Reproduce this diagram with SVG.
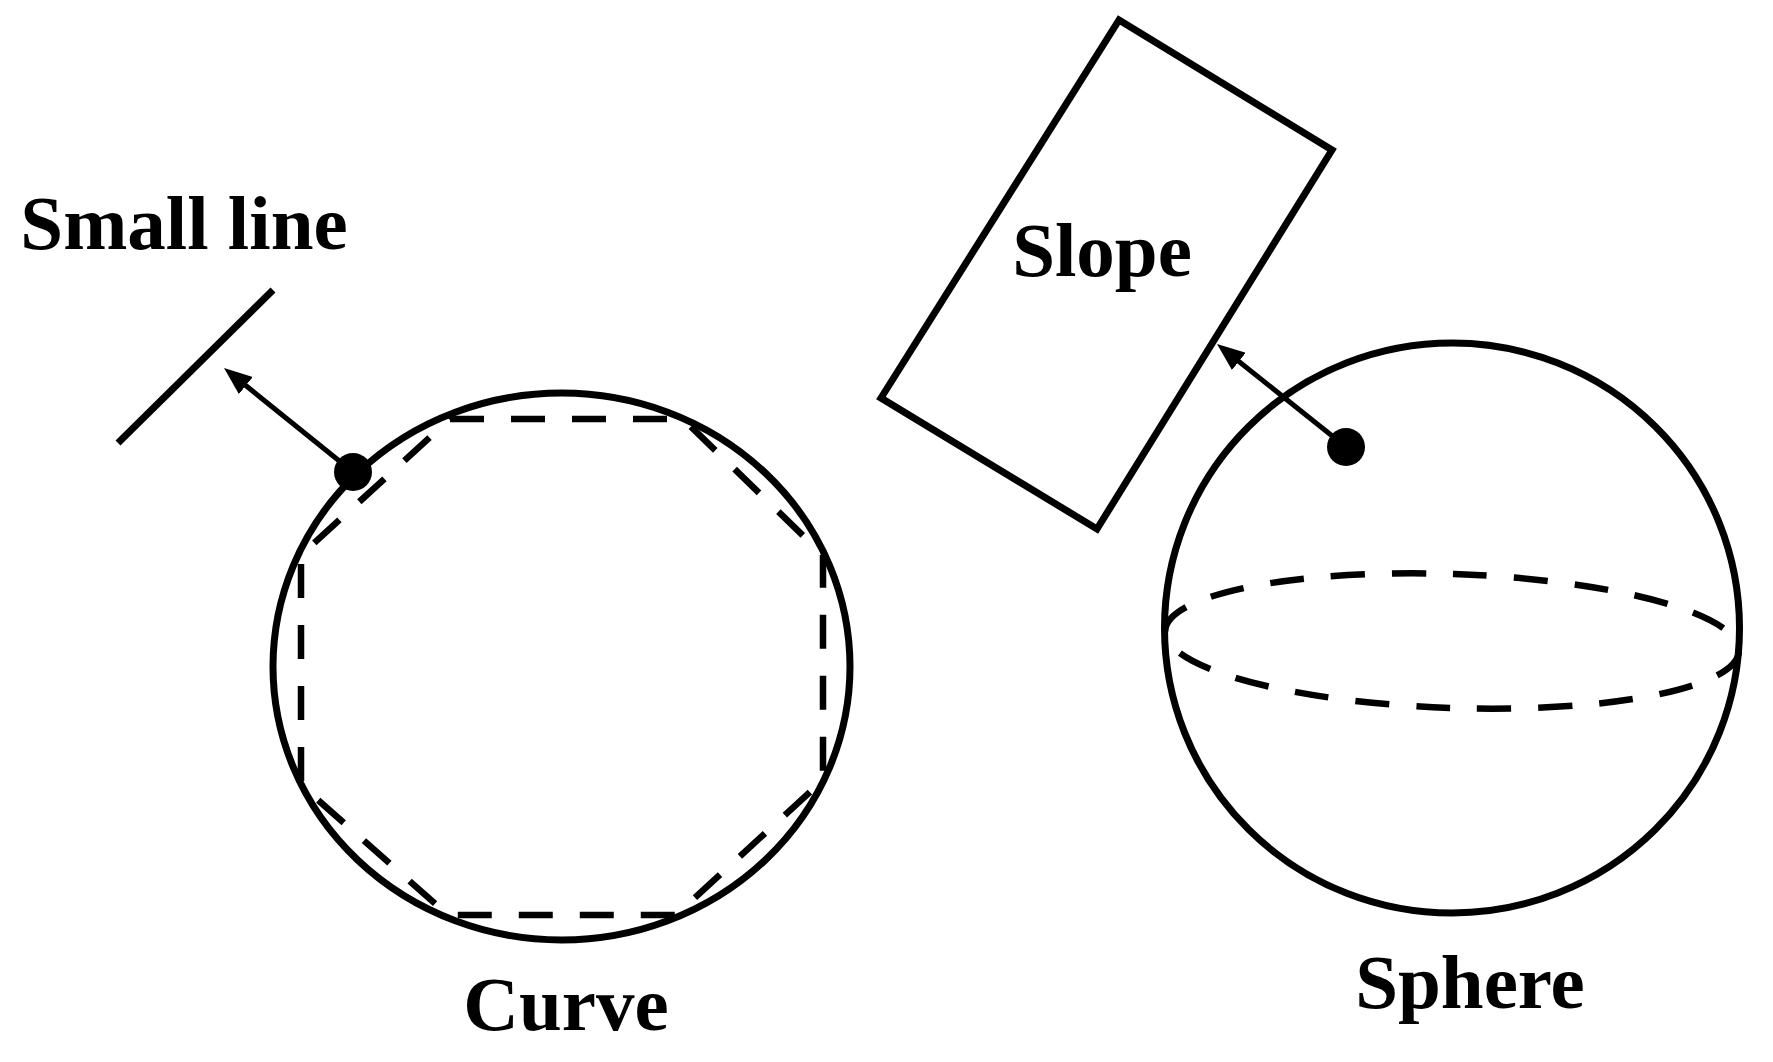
<svg xmlns="http://www.w3.org/2000/svg" width="1773" height="1062" viewBox="0 0 1773 1062">
<style>
.solid{fill:none;stroke:#000;stroke-width:7}
.dash{fill:none;stroke:#000;stroke-width:6.5;stroke-dasharray:34 27}
.arrow{stroke:#000;stroke-width:5;fill:none}
.lbl{font-family:"Liberation Serif","Times New Roman",serif;font-weight:bold;font-size:77px;fill:#000;text-anchor:middle}
</style>
<defs>
<marker id="ah" viewBox="0 0 28 22" markerWidth="28" markerHeight="22" refX="18" refY="11" orient="auto" markerUnits="userSpaceOnUse">
<path d="M0,0 L28,11 L0,22 z" fill="#000"/>
</marker>
</defs>
<rect width="1773" height="1062" fill="#fff"/>
<g id="small-line">
<line class="solid" x1="273" y1="290" x2="118" y2="443"/>
<text class="lbl" x="184" y="249">Small line</text>
</g>
<g id="curve">
<ellipse class="solid" cx="561.5" cy="666.5" rx="288.5" ry="273.5"/>
<polygon class="dash" points="450,419 683,419 823,555 823,780 676,915 448,915 301,785 301,555"/>
<circle cx="353" cy="472" r="19" fill="#000"/>
<text class="lbl" x="566" y="1030">Curve</text>
</g>
<g id="slope">
<polygon class="solid" points="1119,20 1332,150 1097,529 881,398"/>
<text class="lbl" x="1102" y="276">Slope</text>
</g>
<g id="sphere">
<ellipse class="solid" cx="1452" cy="628" rx="287.5" ry="285"/>
<ellipse class="dash" cx="1452" cy="641" rx="287" ry="67" transform="rotate(2 1452 641)"/>
<circle cx="1346" cy="447" r="19" fill="#000"/>
<text class="lbl" x="1470" y="1008">Sphere</text>
</g>
<g id="connectors">
<line class="arrow" x1="353" y1="472" x2="231.8" y2="374.3" marker-end="url(#ah)"/>
<line class="arrow" x1="1346" y1="447" x2="1224.8" y2="350.2" marker-end="url(#ah)"/>
</g>
</svg>
